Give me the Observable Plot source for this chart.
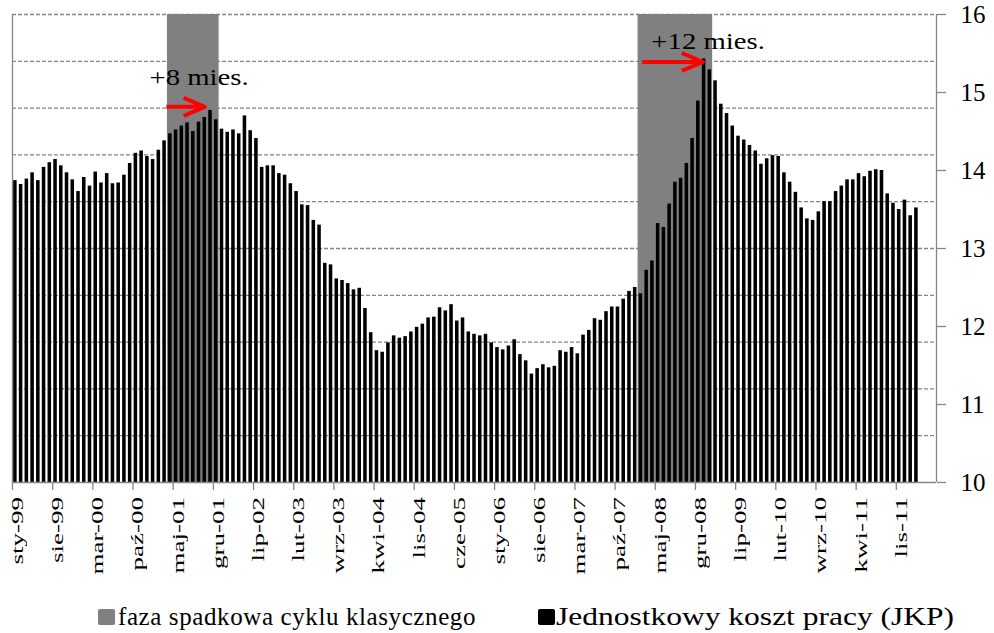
<!DOCTYPE html>
<html>
<head>
<meta charset="utf-8">
<script src="https://cdn.jsdelivr.net/npm/d3@7"></script>
<script src="https://cdn.jsdelivr.net/npm/@observablehq/plot@0.6"></script>
<style>
html, body { margin: 0; padding: 0; background: #fff; }
#wrap { position: relative; width: 994px; height: 633px; font-family: "Liberation Serif", "Times New Roman", serif; color: #000; overflow: hidden; }
#chart { position: absolute; left: 0; top: 0; }
.sw { position: absolute; top: 609px; width: 17px; height: 16px; border-radius: 2px; }
.lt { position: absolute; top: 604px; font-size: 25px; line-height: 25px; white-space: nowrap; transform-origin: 0 0; }
.xl { position: absolute; width: 27px; font-size: 27px; line-height: 27px; white-space: nowrap;
      writing-mode: sideways-lr; transform-origin: 50% 50%; transform: scaleX(0.6); }
.xl.fb { writing-mode: vertical-rl; transform: rotate(180deg) scaleX(0.6); }
</style>
</head>
<body>
<div id="wrap">
  <div id="chart"></div>
  <div class="sw" style="left:98px;background:#808080;"></div>
  <div class="lt" id="leg1" style="left:118px;letter-spacing:0.6px;">faza spadkowa cyklu klasycznego</div>
  <div class="sw" style="left:538px;background:#000;"></div>
  <div class="lt" id="leg2" style="left:556px;transform:scaleX(1.26);">Jednostkowy koszt pracy (JKP)</div>
</div>
<script>
// ---- data ----
// monthly categories: Jan 1999 (index 0) ... May 2012 (index 160)
const monthCount = 161;
const tickMonthIndex = [0,7,14,21,28,35,42,49,56,63,70,77,84,91,98,105,112,119,126,133,140,147,154];
const tickLabels = ["sty-99","sie-99","mar-00","paź-00","maj-01","gru-01","lip-02","lut-03","wrz-03","kwi-04","lis-04","cze-05","sty-06","sie-06","mar-07","paź-07","maj-08","gru-08","lip-09","lut-10","wrz-10","kwi-11","lis-11"];
const yTicks = [10, 11, 12, 13, 14, 15, 16];
const gridValues = [10.6, 11.2, 11.8, 12.4, 13.0, 13.6, 14.2, 14.8, 15.4, 16.0];

// Jednostkowy koszt pracy (JKP), monthly from sty-99
const jkp = [
  13.87, 13.82, 13.89, 13.97, 13.87, 14.04, 14.10, 14.14, 14.06, 13.97, 13.88, 13.73,
  13.91, 13.80, 13.98, 13.84, 13.96, 13.83, 13.84, 13.94, 14.09, 14.22, 14.25, 14.18,
  14.14, 14.26, 14.38, 14.47, 14.52, 14.57, 14.61, 14.50, 14.62, 14.68, 14.77, 14.65,
  14.53, 14.49, 14.52, 14.47, 14.70, 14.51, 14.41, 14.04, 14.06, 14.06, 13.96, 13.94,
  13.83, 13.73, 13.56, 13.55, 13.36, 13.30, 12.81, 12.79, 12.61, 12.59, 12.55, 12.47,
  12.49, 12.23, 11.92, 11.69, 11.67, 11.79, 11.88, 11.85, 11.87, 11.93, 11.99, 12.03,
  12.11, 12.12, 12.24, 12.20, 12.28, 12.07, 12.11, 11.93, 11.90, 11.88, 11.90, 11.79,
  11.73, 11.70, 11.75, 11.83, 11.64, 11.56, 11.39, 11.46, 11.51, 11.47, 11.49, 11.69,
  11.67, 11.73, 11.65, 11.89, 11.95, 12.10, 12.08, 12.19, 12.25, 12.25, 12.35, 12.45,
  12.50, 12.42, 12.72, 12.84, 13.32, 13.27, 13.57, 13.85, 13.90, 14.09, 14.41, 14.89,
  15.43, 15.29, 15.15, 14.85, 14.73, 14.57, 14.44, 14.39, 14.32, 14.25, 14.08, 14.15,
  14.19, 14.18, 13.97, 13.85, 13.72, 13.52, 13.38, 13.36, 13.47, 13.60, 13.60, 13.73,
  13.80, 13.88, 13.88, 13.96, 13.92, 13.99, 14.01, 14.00, 13.70, 13.58, 13.50, 13.62,
  13.42, 13.52
];

// faza spadkowa cyklu klasycznego (month index start, end exclusive)
const phaseStart = [27, 109];
const phaseEnd = [36, 122];

// annotations
const annotText = ["+8 mies.", "+12 mies."];
const annotX = [32.6, 121.3];
const annotY = [15.19, 15.65];
const arrowX1 = [26.9, 109.8];
const arrowX2 = [33.6, 120.4];
const arrowY = [14.81, 15.385];

// ---- build ----
const bars = jkp.map((v, i) => ({i, v}));
const phases = phaseStart.map((s, k) => ({s, e: phaseEnd[k]}));
const yMin = yTicks[0], yMax = yTicks[yTicks.length - 1];
const FONT = "Liberation Serif";
const GRAY = "#868686";

// month label anchor positions, taken from the plot's own x / y scales
const labelPos = [];
function monthLabelAnchors(index, scales) {
  tickMonthIndex.forEach((m, k) => {
    labelPos.push({x: scales.x(m + 0.5) + 2.5, y: scales.y(yMin) + 15, t: tickLabels[k]});
  });
  return d3.create("svg:g").attr("aria-label", "month label anchors").node();
}

// "+N mies." annotations
function annotLabels(index, scales) {
  const g = d3.create("svg:g").attr("aria-label", "annotations");
  annotText.forEach((t, k) => {
    const X = scales.x(annotX[k]);
    const Y = scales.y(annotY[k]);
    g.append("text")
      .attr("transform", `matrix(1.25,0,0,1,${X},${Y})`)
      .attr("dy", "0.32em")
      .attr("text-anchor", "middle")
      .attr("font-family", FONT)
      .attr("font-size", 23)
      .attr("fill", "#000")
      .text(t);
  });
  return g.node();
}

// red arrows
function arrowMark(index, scales) {
  const g = d3.create("svg:g").attr("aria-label", "arrows");
  arrowX1.forEach((ax1, k) => {
    const x1 = scales.x(ax1), x2 = scales.x(arrowX2[k]);
    const y1 = scales.y(arrowY[k]), y2 = scales.y(arrowY[k]);
    const ang = Math.atan2(y2 - y1, x2 - x1);
    const L = 23, half = 23 * Math.PI / 180;
    const ax = x2 - L * Math.cos(ang - half), ay = y2 - L * Math.sin(ang - half);
    const bx = x2 - L * Math.cos(ang + half), by = y2 - L * Math.sin(ang + half);
    g.append("path")
      .attr("d", `M${x1},${y1}L${x2 - 2},${y2}M${ax},${ay}L${x2},${y2}L${bx},${by}`)
      .attr("fill", "none")
      .attr("stroke", "#ff0000")
      .attr("stroke-width", 4)
      .attr("stroke-linejoin", "round");
  });
  return g.node();
}

const chart = Plot.plot({
  width: 994,
  height: 585,
  marginLeft: 12,
  marginRight: 58,
  marginTop: 14,
  marginBottom: 103,
  x: {domain: [0, monthCount], axis: null},
  y: {domain: [yMin, yMax], axis: null},
  style: {fontFamily: FONT, background: "white", color: "black", overflow: "visible"},
  marks: [
    Plot.ruleY(gridValues, {stroke: GRAY, strokeWidth: 1.3, strokeDasharray: "4,2"}),
    Plot.rect(phases, {x1: "s", x2: "e", y1: yMin, y2: yMax, fill: "#808080"}),
    Plot.rectY(bars, {x1: "i", x2: d => d.i + 1, y1: yMin, y2: "v", fill: "#000", insetLeft: 1.1, insetRight: 1.1}),
    Plot.ruleX([0, monthCount], {stroke: GRAY, strokeWidth: 1.3}),
    Plot.ruleY([yMin], {stroke: GRAY, strokeWidth: 1.3}),
    Plot.axisX(tickMonthIndex, {anchor: "bottom", tickSize: 8, tickFormat: () => "", stroke: GRAY, strokeWidth: 1.3, label: null}),
    monthLabelAnchors,
    Plot.axisY(yTicks, {anchor: "right", tickSize: 9, tickPadding: 15, fontSize: 25, fontFamily: FONT, stroke: GRAY, strokeWidth: 1.3, fill: "#000", label: null, tickFormat: d => String(d)}),
    arrowMark,
    annotLabels
  ]
});

document.getElementById("chart").appendChild(chart);

// month labels reading upward (sideways writing mode), anchored at the tick positions
const wrap = document.getElementById("wrap");
const sidewaysOK = window.CSS && CSS.supports && CSS.supports("writing-mode", "sideways-lr");
for (const p of labelPos) {
  const d = document.createElement("div");
  d.className = sidewaysOK ? "xl" : "xl fb";
  d.style.left = (p.x - 13.5) + "px";
  d.style.top = p.y + "px";
  d.textContent = p.t;
  wrap.appendChild(d);
}
</script>
</body>
</html>
